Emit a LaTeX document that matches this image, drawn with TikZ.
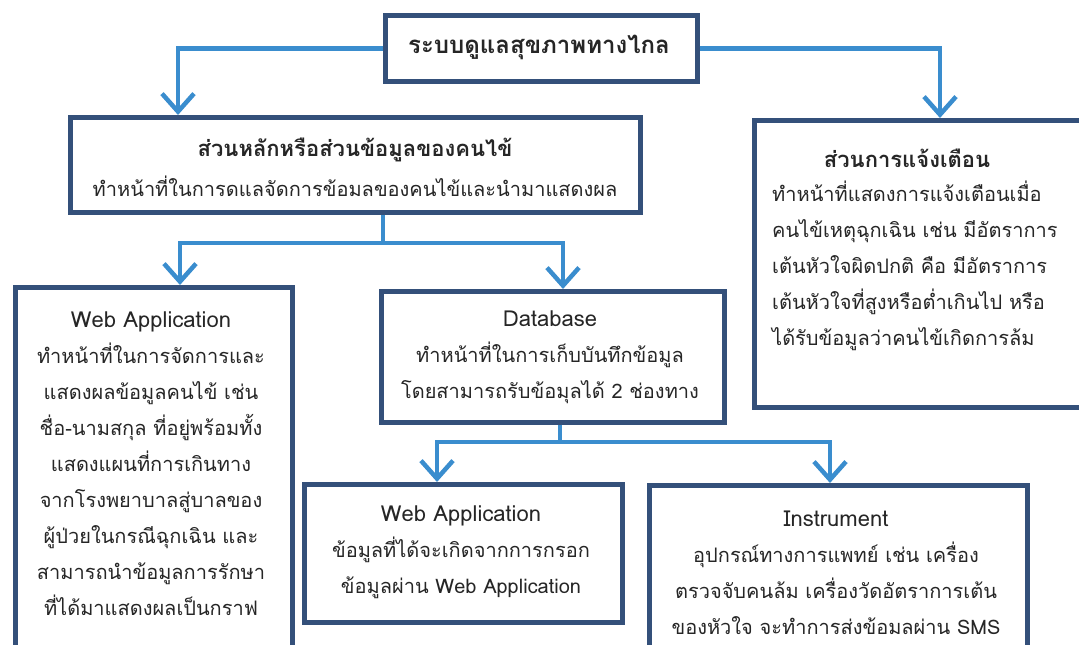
\documentclass[tikz,border=0pt]{standalone}
\usepackage{fontspec}
\setmainfont[Script=Thai]{Loma}
\usetikzlibrary{arrows.meta}
\definecolor{boxline}{HTML}{34507A}
\definecolor{flow}{HTML}{3A8DCE}
\newcommand\boxtitle[1]{{\fontsize{22}{36}\selectfont #1}}
\begin{document}
\begin{tikzpicture}[x=1pt,y=-1pt,
  box/.style={draw=boxline, line width=4.5pt, fill=white, rectangle, inner sep=0pt, anchor=north west},
  txt/.style={font=\fontsize{20}{36}\selectfont, align=center, inner sep=0pt, text=black!85},
  head/.style={font=\fontsize{22}{36}\selectfont\bfseries, inner sep=0pt, text=black!85},
  flowline/.style={draw=flow, line width=4.5pt},
  conn/.style={flowline, -{Straight Barb[length=18pt,width=32pt]}}]
\useasboundingbox (0,0) rectangle (1079,645);

% boxes
\node[box, minimum width=312pt, minimum height=66pt] (top) at (383,13) {};
\node[box, minimum width=570pt, minimum height=95pt] (main) at (68,115) {};
\node[box, minimum width=340pt, minimum height=287pt] (alert) at (752,118) {};
\node[box, minimum width=277pt, minimum height=380pt] (webA) at (13,285) {};
\node[box, minimum width=343pt, minimum height=131pt] (db) at (379,289) {};
\node[box, minimum width=318pt, minimum height=138pt] (webB) at (302,482) {};
\node[box, minimum width=378pt, minimum height=180pt] (instr) at (647,483) {};

% texts
\node[head, font=\fontsize{24}{36}\selectfont\bfseries] (topT) at (539,47) {ระบบดูแลสุขภาพทางไกล};
\node[head] (mainT) at (355,150) {ส่วนหลักหรือส่วนข้อมูลของคนไข้};
\node[txt] (mainB) at (355,186) {ทำหน้าที่ในการดแลจัดการข้อมลของคนไข้และนำมาแสดงผล};
\node[head] (alertT) at (907,158) {ส่วนการแจ้งเตือน};
\node[txt, align=left, anchor=west] (alertB) at (772,266)
  {ทำหน้าที่แสดงการแจ้งเตือนเมื่อ\\คนไข้เหตุฉุกเฉิน เช่น มีอัตราการ\\เต้นหัวใจผิดปกติ คือ มีอัตราการ\\เต้นหัวใจที่สูงหรือต่ำเกินไป หรือ\\ได้รับข้อมูลว่าคนไข้เกิดการล้ม};
\node[txt] (webAT) at (151,464)
  {\boxtitle{Web Application}\\ทำหน้าที่ในการจัดการและ\\แสดงผลข้อมูลคนไข้ เช่น\\ชื่อ-นามสกุล ที่อยู่พร้อมทั้ง\\แสดงแผนที่การเกินทาง\\จากโรงพยาบาลสู่บาลของ\\ผู้ป่วยในกรณีฉุกเฉิน และ\\สามารถนำข้อมูลการรักษา\\ที่ได้มาแสดงผลเป็นกราฟ};
\node[txt] (dbT) at (550,357)
  {\boxtitle{Database}\\ทำหน้าที่ในการเก็บบันทึกข้อมูล\\โดยสามารถรับข้อมุลได้ 2 ช่องทาง};
\node[txt] (webBT) at (461,552)
  {\boxtitle{Web Application}\\ข้อมูลที่ได้จะเกิดจากการกรอก\\ข้อมูลผ่าน Web Application};
\node[txt] (instrT) at (836,573)
  {\boxtitle{Instrument}\\อุปกรณ์ทางการแพทย์ เช่น เครื่อง\\ตรวจจับคนล้ม เครื่องวัดอัตราการเต้น\\ของหัวใจ จะทำการส่งข้อมลผ่าน SMS};

% connectors
\draw[conn] (top.west) -| ([xshift=110pt]main.north west);
\draw[conn] (top.east) -| ([xshift=188pt]alert.north west);

\coordinate (split1) at (383,243);
\draw[flowline] ([xshift=315pt]main.south west) -- (split1);
\draw[conn] (split1) -| ([xshift=167pt]webA.north west);
\draw[conn] (split1) -| ([xshift=184pt]db.north west);

\coordinate (split2) at (560,442);
\draw[flowline] ([xshift=181pt]db.south west) -- (split2);
\draw[conn] (split2) -| ([xshift=135pt]webB.north west);
\draw[conn] (split2) -| ([xshift=183pt]instr.north west);
\end{tikzpicture}
\end{document}
